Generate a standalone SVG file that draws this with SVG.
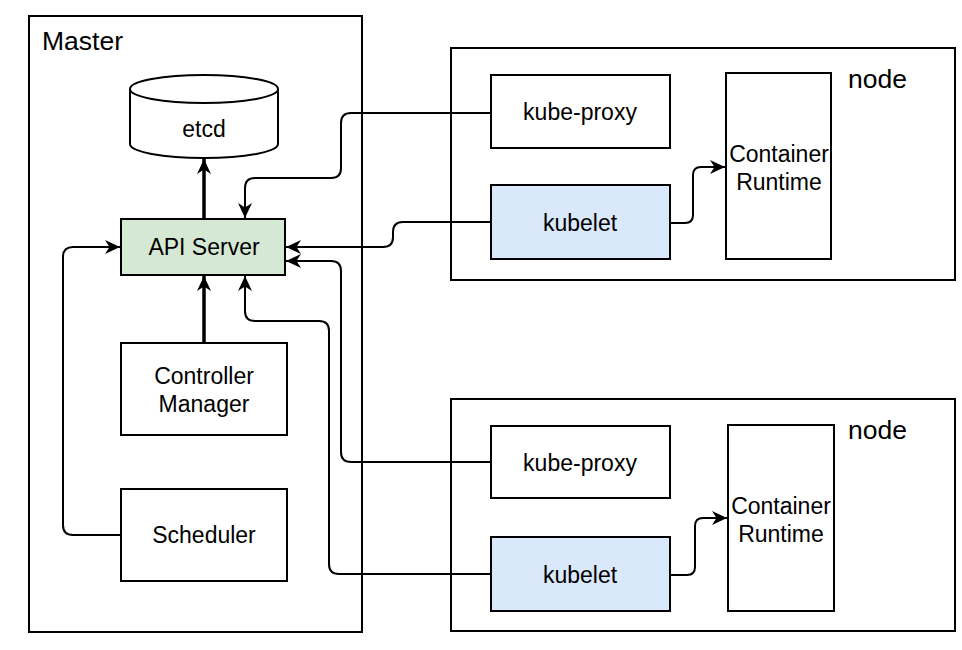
<svg xmlns="http://www.w3.org/2000/svg" width="962" height="650" viewBox="0 0 962 650">
<style>
.box{fill:#ffffff;stroke:#000000;stroke-width:2}
.green{fill:#d5e8d4}
.blue{fill:#dae8fc}
.t{font-family:"Liberation Sans",Arial,Helvetica,sans-serif;font-size:23px;fill:#000000;text-anchor:middle}
.big{font-family:"Liberation Sans",Arial,Helvetica,sans-serif;font-size:26.5px;fill:#000000}
.c{fill:none;stroke:#000000;stroke-width:2}
.thick{fill:none;stroke:#000000;stroke-width:3.5}
</style>
<defs>
<marker id="arr" markerUnits="userSpaceOnUse" markerWidth="17" markerHeight="16" refX="15" refY="8" orient="auto">
<path d="M0,1 L15,8 L0,15 L4.5,8 Z" fill="#000000"/>
</marker>
</defs>
<rect width="962" height="650" fill="#ffffff"/>
<g id="master">
<rect class="box" x="29" y="16" width="333" height="616"/>
<text class="big" x="42" y="50">Master</text>
</g>
<g id="node1">
<rect class="box" x="451" y="48" width="504" height="232"/>
<text class="big" x="848" y="88">node</text>
</g>
<g id="node2">
<rect class="box" x="451" y="399" width="504" height="232"/>
<text class="big" x="848" y="439">node</text>
</g>
<g id="etcd">
<path class="box" d="M130,89 A74,14 0 0 1 278,89 L278,144 A74,14 0 0 1 130,144 Z"/>
<path class="c" d="M130,89 A74,14 0 0 0 278,89"/>
<text class="t" x="204" y="137">etcd</text>
</g>
<g id="apiserver">
<rect class="box green" x="121" y="219" width="164" height="56"/>
<text class="t" x="204" y="255">API Server</text>
</g>
<g id="controller">
<rect class="box" x="121" y="343" width="166" height="92"/>
<text class="t" x="204" y="384">Controller</text>
<text class="t" x="204" y="412">Manager</text>
</g>
<g id="scheduler">
<rect class="box" x="121" y="489" width="166" height="92"/>
<text class="t" x="204" y="543">Scheduler</text>
</g>
<g id="kubeproxy1">
<rect class="box" x="491" y="75" width="179" height="73"/>
<text class="t" x="580" y="120">kube-proxy</text>
</g>
<g id="kubelet1">
<rect class="box blue" x="491" y="185" width="179" height="74"/>
<text class="t" x="580" y="231">kubelet</text>
</g>
<g id="runtime1">
<rect class="box" x="726" y="73" width="105" height="186"/>
<text class="t" x="779" y="162">Container</text>
<text class="t" x="779" y="190">Runtime</text>
</g>
<g id="kubeproxy2">
<rect class="box" x="491" y="426" width="179" height="72"/>
<text class="t" x="580" y="471">kube-proxy</text>
</g>
<g id="kubelet2">
<rect class="box blue" x="491" y="537" width="179" height="74"/>
<text class="t" x="580" y="583">kubelet</text>
</g>
<g id="runtime2">
<rect class="box" x="728" y="425" width="106" height="186"/>
<text class="t" x="781" y="514">Container</text>
<text class="t" x="781" y="542">Runtime</text>
</g>
<g id="connectors">
<path class="thick" d="M204,219 L204,159" marker-end="url(#arr)"/>
<path class="thick" d="M204,343 L204,276" marker-end="url(#arr)"/>
<path class="c" d="M121,535 L73,535 Q63,535 63,525 L63,257 Q63,247 73,247 L120,247" marker-end="url(#arr)"/>
<path class="c" d="M491,113 L351,113 Q341,113 341,123 L341,168 Q341,178 331,178 L255,178 Q245,178 245,188 L245,218" marker-end="url(#arr)"/>
<path class="c" d="M491,222 L403,222 Q393,222 393,232 L393,237 Q393,247 383,247 L286,247" marker-end="url(#arr)"/>
<path class="c" d="M491,462 L351,462 Q341,462 341,452 L341,271 Q341,261 331,261 L286,261" marker-end="url(#arr)"/>
<path class="c" d="M491,574 L339,574 Q329,574 329,564 L329,331 Q329,321 319,321 L255,321 Q245,321 245,311 L245,276" marker-end="url(#arr)"/>
<path class="c" d="M670,223 L685,223 Q693,223 693,215 L693,175 Q693,167 701,167 L725,167" marker-end="url(#arr)"/>
<path class="c" d="M670,575 L687,575 Q695,575 695,567 L695,526 Q695,518 703,518 L727,518" marker-end="url(#arr)"/>
</g>
</svg>
